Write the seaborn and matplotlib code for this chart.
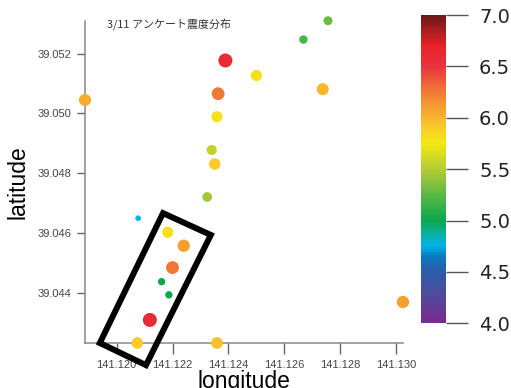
import numpy as np
import pandas as pd
import seaborn as sns
import matplotlib.pyplot as plt
from matplotlib import font_manager
from matplotlib.colors import LinearSegmentedColormap, Normalize
from matplotlib.cm import ScalarMappable
from matplotlib.patches import Polygon

# survey points: longitude, latitude, intensity
lon = [141.12389, 141.12500, 141.12363, 141.11887, 141.12359, 141.12340, 141.12351,
       141.12324, 141.12077, 141.12183, 141.12240, 141.12200, 141.12161, 141.12187,
       141.12119, 141.12074, 141.12359, 141.12756, 141.12668, 141.12737, 141.13024]
lat = [39.05177, 39.05127, 39.05066, 39.05045, 39.04989, 39.04878, 39.04831,
       39.04721, 39.04650, 39.04603, 39.04558, 39.04485, 39.04438, 39.04394,
       39.04310, 39.04233, 39.04233, 39.05310, 39.05247, 39.05081, 39.04370]
intensity = [6.6, 5.8, 6.25, 6.05, 5.8, 5.55, 5.9,
             5.45, 4.75, 5.8, 6.1, 6.25, 5.0, 5.0,
             6.6, 5.9, 5.95, 5.3, 5.2, 6.0, 6.1]

# highlighted area (corners, lon/lat)
box_lon = [141.12166, 141.12337, 141.12105, 141.11940]
box_lat = [39.04667, 39.04594, 39.04159, 39.04233]

cbar_ticks = [4.0, 4.5, 5.0, 5.5, 6.0, 6.5, 7.0]

df = pd.DataFrame({"longitude": lon, "latitude": lat, "intensity": intensity})

# colour scale 4.0 -> 7.0
stops = [(4.0, "#7b2a8e"), (4.3, "#4a4e9e"), (4.5, "#2a5ca8"), (4.65, "#0a7ac0"),
         (4.75, "#00b4e8"), (4.88, "#0ab09a"), (5.0, "#0aa84a"), (5.25, "#5cb848"),
         (5.5, "#b4cc34"), (5.75, "#f2ea14"), (5.9, "#fbcc2a"), (6.1, "#f5a030"),
         (6.3, "#ef6e36"), (6.5, "#e8333f"), (6.7, "#ea2228"), (7.0, "#6b1818")]
cmap = LinearSegmentedColormap.from_list("shindo", [((v - 4.0) / 3.0, c) for v, c in stops])
norm = Normalize(4.0, 7.0)

# narrow font for the colour bar labels if it is there
names = {f.name for f in font_manager.fontManager.ttflist}
cb_font = "Liberation Sans Narrow" if "Liberation Sans Narrow" in names else "DejaVu Sans"
cb_size = 19 if cb_font == "Liberation Sans Narrow" else 14

fig = plt.figure(figsize=(5.11, 3.88), dpi=100)
ax = fig.add_axes([0.1663, 0.116, 0.6223, 0.8299])
cax = fig.add_axes([0.8233, 0.1667, 0.0489, 0.7946])

sns.scatterplot(data=df, x="longitude", y="latitude", hue="intensity", size="intensity",
                palette=cmap, hue_norm=norm, sizes=(5, 120), size_norm=(4.5, 7.0),
                linewidth=0, legend=False, ax=ax, clip_on=False, zorder=5)

ax.add_patch(Polygon(list(zip(box_lon, box_lat)), closed=True, fill=False,
                     ec="black", lw=4.3, joinstyle="miter", clip_on=False, zorder=6))

ax.set_xlim(141.11887, 141.13024)
ax.set_ylim(39.04233, 39.05309)
ax.set_xticks([141.120, 141.122, 141.124, 141.126, 141.128, 141.130])
ax.set_yticks([39.044, 39.046, 39.048, 39.050, 39.052])
ax.xaxis.set_major_formatter(plt.FormatStrFormatter("%.3f"))
ax.yaxis.set_major_formatter(plt.FormatStrFormatter("%.3f"))

for s in ["top", "right"]:
    ax.spines[s].set_visible(False)
for s in ["left", "bottom"]:
    ax.spines[s].set_color("#888888")
    ax.spines[s].set_linewidth(1.1)
ax.tick_params(axis="x", length=8, width=1, color="#666666", pad=4,
               labelsize=8, labelcolor="#444444")
ax.tick_params(axis="y", length=6, width=1, color="#666666", pad=4,
               labelsize=8, labelcolor="#444444")
for lab in ax.get_xticklabels() + ax.get_yticklabels():
    lab.set_family("Liberation Sans")

ax.set_xlabel("longitude", fontsize=16.5, family="Liberation Sans", labelpad=0)
ax.set_ylabel("latitude", fontsize=16.5, family="Liberation Sans", labelpad=8)
ax.xaxis.set_label_coords(0.5, -0.085)
ax.yaxis.set_label_coords(-0.175, 0.5)

fig.text(107 / 511, 1 - 25 / 388, "3/11 アンケート震度分布", fontsize=7.9, color="#333333",
         ha="left", va="center", family=["Noto Sans CJK JP", "DejaVu Sans"])

cb = fig.colorbar(ScalarMappable(norm=norm, cmap=cmap), cax=cax, ticks=cbar_ticks)
cb.outline.set_visible(False)
cb.ax.tick_params(length=16, width=1, color="#555555", pad=8,
                  labelsize=cb_size, labelcolor="#222222")
cb.ax.set_yticklabels(["%.1f" % t for t in cbar_ticks])
for lab in cb.ax.get_yticklabels():
    lab.set_family(cb_font)

fig.savefig("out.png", dpi=100)
